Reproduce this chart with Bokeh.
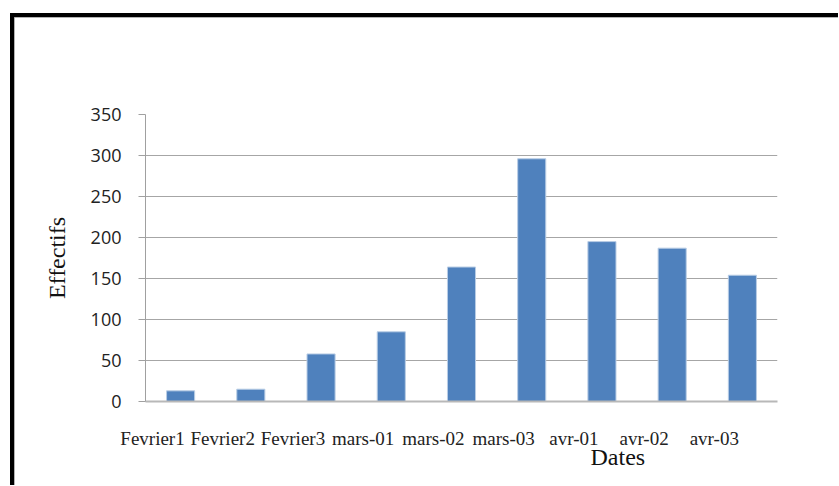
from bokeh.plotting import figure
from bokeh.models import Range1d, FixedTicker, Title, LinearAxis, ColumnDataSource
from bokeh.embed import file_html
from bokeh.resources import INLINE

categories = ["Fevrier1", "Fevrier2", "Fevrier3", "mars-01", "mars-02",
              "mars-03", "avr-01", "avr-02", "avr-03"]
effectifs = [13, 15, 58, 85, 164, 296, 195, 187, 154]
y_ticks = [0, 50, 100, 150, 200, 250, 300, 350]

n = len(categories)
idx = list(range(n))
src = ColumnDataSource(dict(idx=idx, cat=categories, eff=effectifs))

p = figure(x_range=Range1d(-0.5, n - 0.5),
           y_range=Range1d(0, 350),
           width=828, height=472,
           x_axis_location=None,
           output_backend="svg", toolbar_location=None,
           min_border_left=131, min_border_right=65,
           min_border_top=97, min_border_bottom=88)

p.styles = {"border-left": "4px solid black", "border-top": "4px solid black",
            "margin-left": "10px", "margin-top": "13px",
            "box-shadow": "inset 1px 1px 0 #9a9a9a"}

p.vbar(x="idx", top="eff", width=0.4, source=src,
       fill_color="#4F81BD", line_color="#B9CDE5", line_width=1)

p.outline_line_color = None
p.background_fill_color = "white"
p.border_fill_color = "white"

p.xgrid.grid_line_color = None
p.ygrid.grid_line_color = "#a6a6a6"
p.ygrid.grid_line_width = 1

p.yaxis.ticker = FixedTicker(ticks=y_ticks)
p.yaxis.major_tick_out = 7
p.yaxis.major_tick_in = 0
p.yaxis.minor_tick_line_color = None
p.yaxis.axis_line_color = "#a0a0a0"
p.yaxis.major_tick_line_color = "#a0a0a0"
p.yaxis.major_label_text_font = "Open Sans"
p.yaxis.major_label_text_font_size = "18px"
p.yaxis.major_label_text_color = "#222222"
p.yaxis.major_label_standoff = 17
p.yaxis.axis_label = "Effectifs"
p.yaxis.axis_label_text_font = "Liberation Serif"
p.yaxis.axis_label_text_font_size = "24px"
p.yaxis.axis_label_text_font_style = "normal"
p.yaxis.axis_label_text_color = "#111111"
p.yaxis.axis_label_standoff = 18

# Category labels: in the reference each label sits left of its bar
# (its right edge near the category centre), so the label axis uses a
# range shifted by ~0.4 category widths.
p.extra_x_ranges = {"labels": Range1d(-0.1, n - 0.1)}
xaxis = LinearAxis(x_range_name="labels",
                   ticker=FixedTicker(ticks=idx),
                   major_label_overrides={i: c for i, c in zip(idx, categories)})
xaxis.major_tick_line_color = None
xaxis.minor_tick_line_color = None
xaxis.axis_line_color = "#b8b8b8"
xaxis.axis_line_width = 2
xaxis.major_label_text_font = "Liberation Serif"
xaxis.major_label_text_font_size = "19px"
xaxis.major_label_text_color = "#222222"
xaxis.major_label_standoff = 20
p.add_layout(xaxis, "below")

t = Title(text="Dates", align="left", offset=445, standoff=-19,
          text_font="Liberation Serif", text_font_size="24px",
          text_font_style="normal", text_color="#111111")
p.add_layout(t, "below")

open("out.html", "w").write(file_html(p, INLINE))
